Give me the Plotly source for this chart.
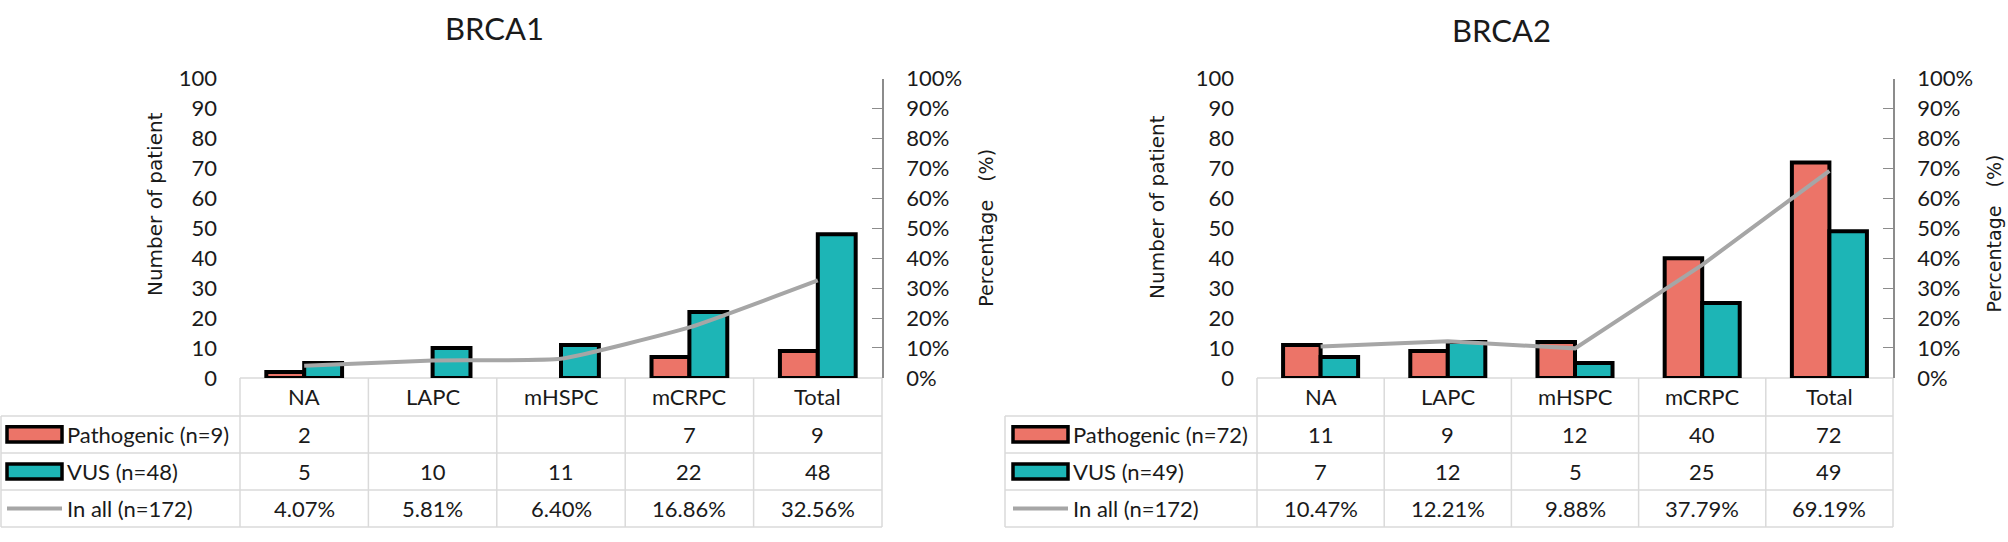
"""BRCA1 / BRCA2 变异分布：柱状图 + 百分比折线 + 数据表（仿 Excel 组合图）。"""

import plotly.graph_objects as go

# ---- 数据 ----
categories = ["NA", "LAPC", "mHSPC", "mCRPC", "Total"]

brca1_pathogenic = [2, None, None, 7, 9]
brca1_vus = [5, 10, 11, 22, 48]
brca1_inall = [4.07, 5.81, 6.40, 16.86, 32.56]

brca2_pathogenic = [11, 9, 12, 40, 72]
brca2_vus = [7, 12, 5, 25, 49]
brca2_inall = [10.47, 12.21, 9.88, 37.79, 69.19]

series_names = {
    "BRCA1": ["Pathogenic (n=9)", "VUS (n=48)", "In all (n=172)"],
    "BRCA2": ["Pathogenic (n=72)", "VUS (n=49)", "In all (n=172)"],
}
y_ticks = list(range(0, 101, 10))
pct_ticktext = [f"{v}%" for v in y_ticks]

# ---- 样式 ----
W, H = 2008, 542
RED = "#EC7468"
TEAL = "#1DB5B6"
GREY = "#A6A6A6"
GRID = "#DADADA"
TXT = "#1a1a1a"
FONT = "Lato"
TITLE_FONT = "DejaVu Sans"
FS = 22

# 绘图区纵向像素（y=100 → 68px, y=0 → 383px），表格行线
Y_TOP, Y_BOT = 68, 383
ROW_LINES = [423, 462, 501, 540]
HEADER_Y = 403


def px(x):
    return x / W


def py(y):
    return 1 - y / H


def txt(x, y, text, xref="paper", xanchor="center", size=FS, family=FONT, angle=0):
    return dict(x=x, y=y, xref=xref, yref="paper", text=text, showarrow=False,
                xanchor=xanchor, yanchor="middle", textangle=angle,
                font=dict(family=family, size=size, color=TXT))


panels = [
    dict(name="BRCA1", path=brca1_pathogenic, vus=brca1_vus, pct=brca1_inall,
         xa="x", ya="y", ya2="y3", x0=240, x1=882, tbl_left=1, sw=(7, 62),
         title_x=494, title_y=15, ytitle_x=155, ytitle_y=200, ptitle_x=986, ptitle_y=225,
         spline=True),
    dict(name="BRCA2", path=brca2_pathogenic, vus=brca2_vus, pct=brca2_inall,
         xa="x2", ya="y2", ya2="y4", x0=1257, x1=1893, tbl_left=1005, sw=(1013, 1068),
         title_x=1501, title_y=17, ytitle_x=1157, ytitle_y=203, ptitle_x=1994, ptitle_y=231,
         spline=False),
]

fig = go.Figure()
shapes, annotations = [], []

for p in panels:
    names = series_names[p["name"]]
    # 柱
    fig.add_trace(go.Bar(x=categories, y=p["path"], name=names[0],
                         marker=dict(color=RED, line=dict(color="black", width=4)),
                         xaxis=p["xa"], yaxis=p["ya"]))
    fig.add_trace(go.Bar(x=categories, y=p["vus"], name=names[1],
                         marker=dict(color=TEAL, line=dict(color="black", width=4)),
                         xaxis=p["xa"], yaxis=p["ya"]))
    # 折线（右轴，百分比）
    line = dict(color=GREY, width=4)
    if p["spline"]:
        line.update(shape="spline", smoothing=0.4)
    fig.add_trace(go.Scatter(x=categories, y=p["pct"], mode="lines", line=line,
                             name=names[2], xaxis=p["xa"], yaxis=p["ya2"]))

    # ---- 表格网格 ----
    grid = dict(color=GRID, width=1.5)
    col_w = (p["x1"] - p["x0"]) / len(categories)
    for i in range(len(categories) + 1):
        xv = p["x0"] + i * col_w
        shapes.append(dict(type="line", xref="paper", yref="paper",
                           x0=px(xv), x1=px(xv), y0=py(Y_BOT), y1=py(ROW_LINES[-1]),
                           line=grid, layer="below"))
    shapes.append(dict(type="line", xref="paper", yref="paper",
                       x0=px(p["tbl_left"]), x1=px(p["tbl_left"]),
                       y0=py(ROW_LINES[0]), y1=py(ROW_LINES[-1]), line=grid, layer="below"))
    shapes.append(dict(type="line", xref="paper", yref="paper",
                       x0=px(p["x0"]), x1=px(p["x1"]), y0=py(Y_BOT), y1=py(Y_BOT),
                       line=grid, layer="below"))
    for yl in ROW_LINES:
        shapes.append(dict(type="line", xref="paper", yref="paper",
                           x0=px(p["tbl_left"]), x1=px(p["x1"]), y0=py(yl), y1=py(yl),
                           line=grid, layer="below"))

    # 表头（类别）
    for c in categories:
        annotations.append(txt(c, py(HEADER_Y), c, xref=p["xa"]))

    # 表格数值 + 图例文字
    rows = [
        [("" if v is None else str(v)) for v in p["path"]],
        [str(v) for v in p["vus"]],
        [f"{v:.2f}%" for v in p["pct"]],
    ]
    for r, vals in enumerate(rows):
        yc = (ROW_LINES[r] + ROW_LINES[r + 1]) / 2
        for c, t in zip(categories, vals):
            if t:
                annotations.append(txt(c, py(yc), t, xref=p["xa"]))
        annotations.append(txt(px(p["sw"][1] + 3), py(yc), names[r], xanchor="left"))

    # 图例色块
    sx0, sx1 = p["sw"]
    for r, col in enumerate([RED, TEAL]):
        yc = (ROW_LINES[r] + ROW_LINES[r + 1]) / 2
        shapes.append(dict(type="rect", xref="paper", yref="paper",
                           x0=px(sx0), x1=px(sx1), y0=py(yc + 8), y1=py(yc - 8),
                           fillcolor=col, line=dict(color="black", width=3.5)))
    yc = (ROW_LINES[2] + ROW_LINES[3]) / 2
    shapes.append(dict(type="line", xref="paper", yref="paper",
                       x0=px(sx0), x1=px(sx1), y0=py(yc), y1=py(yc),
                       line=dict(color=GREY, width=4)))

    # 标题与轴标题
    annotations.append(txt(px(p["title_x"]), py(p["title_y"]), p["name"], size=31))
    annotations.append(txt(px(p["ytitle_x"]), py(p["ytitle_y"]), "Number of patient",
                           size=20, family=TITLE_FONT, angle=-90))
    annotations.append(txt(px(p["ptitle_x"]), py(p["ptitle_y"]), "Percentage\u00a0\u00a0\u00a0(%)",
                           size=19, family=TITLE_FONT, angle=-90))

# ---- 坐标轴 ----
ydom = [py(Y_BOT), py(Y_TOP)]
x_common = dict(type="category", range=[-0.5, 4.5], showticklabels=False,
                showgrid=False, showline=False, zeroline=False, fixedrange=True)
y_left = dict(range=[0, 100], tickvals=y_ticks, showgrid=False, showline=False,
              zeroline=False, ticks="", ticklabelstandoff=22, domain=ydom,
              tickfont=dict(family=FONT, size=FS, color=TXT))
y_right = dict(range=[0, 100], tickvals=y_ticks, ticktext=pct_ticktext, side="right",
               showgrid=False, zeroline=False, showline=True, linecolor="#8C8C8C",
               linewidth=1.5, ticks="inside", ticklen=10, tickcolor="#8C8C8C",
               ticklabelstandoff=18, tickfont=dict(family=FONT, size=FS, color=TXT))

fig.update_layout(
    width=W, height=H, margin=dict(l=0, r=0, t=0, b=0),
    paper_bgcolor="white", plot_bgcolor="rgba(0,0,0,0)",
    barmode="group", bargap=0.41, bargroupgap=0, showlegend=False,
    xaxis=dict(domain=[px(240), px(882)], **x_common),
    xaxis2=dict(domain=[px(1257), px(1893)], **x_common),
    yaxis=dict(anchor="x", **y_left),
    yaxis2=dict(anchor="x2", **y_left),
    yaxis3=dict(anchor="x", overlaying="y", **y_right),
    yaxis4=dict(anchor="x2", overlaying="y2", **y_right),
    shapes=shapes, annotations=annotations,
)

# 去掉页面默认 8px 边距，让图正好铺满 2008x542 窗口；隐藏工具栏
fig.write_html("out.html", config={"displayModeBar": False},
               post_script="document.body.style.margin='0';document.body.style.overflow='hidden';")
